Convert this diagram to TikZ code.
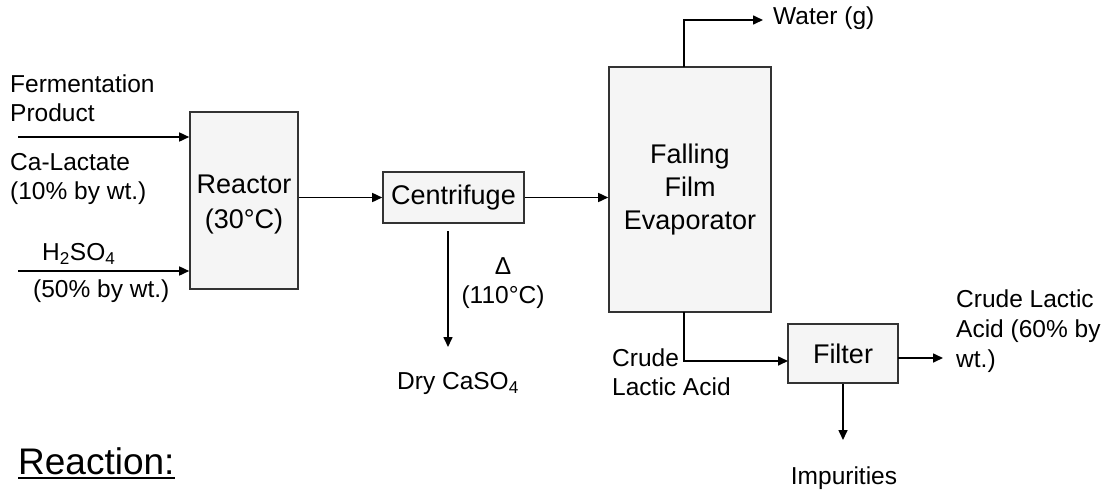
\documentclass[tikz,border=0pt]{standalone}
\usepackage{fontspec}
\setmainfont{Liberation Sans}
\usetikzlibrary{arrows.meta,calc}
\begin{document}
\begin{tikzpicture}[x=1pt,y=-1pt,
  lbl/.style={inner sep=0pt, font=\fontsize{24.5}{29}\selectfont, align=left},
  unit/.style={draw=black!80, line width=1.6pt, fill=black!4, inner sep=0pt, font=\fontsize{27}{34}\selectfont, align=center},
  flow/.style={line width=1.6pt, -{Triangle[length=10pt,width=9pt]}}]
\useasboundingbox (0,0) rectangle (1109,491);
% units
\node[unit, font=\fontsize{27}{35}\selectfont, minimum width=108pt, minimum height=177pt] (reactor) at (244,200.5) {\rule{0pt}{26pt}Reactor\\(30°C)};
\node[unit, minimum width=141pt, minimum height=51pt] (centrifuge) at (453.5,197.5) {Centrifuge};
\node[unit, font=\fontsize{27}{33}\selectfont, minimum width=162pt, minimum height=245pt] (evap) at (690,189.5) {Falling\\Film\\Evaporator};
\node[unit, minimum width=110pt, minimum height=59pt] (filter) at (843,353.5) {Filter};
% labels
\node[lbl, anchor=north west] (ferm) at (10,75) {Fermentation\\Product};
\node[lbl, anchor=north west] (calac) at (10,153) {Ca-Lactate\\(10\% by wt.)};
\node[lbl, anchor=north west] (acid) at (42,243) {H\textsubscript{2}SO\textsubscript{4}};
\node[lbl, anchor=north west] (conc) at (33,280) {(50\% by wt.)};
\node[lbl, align=center, anchor=north] (heat) at (503,257) {Δ\\(110°C)};
\node[lbl, anchor=north west] (dry) at (397,372) {Dry CaSO\textsubscript{4}};
\node[lbl, anchor=north west] (water) at (773,7) {Water (g)};
\node[lbl, anchor=north west] (crude) at (612,349) {Crude\\Lactic Acid};
\node[lbl, font=\fontsize{24.5}{30}\selectfont, anchor=north west] (product) at (956,290) {Crude Lactic\\Acid (60\% by\\wt.)};
\node[lbl, anchor=north] (imp) at (844,467) {Impurities};
\node[inner sep=0pt, anchor=north west, font=\fontsize{37}{40}\selectfont] (reaction) at (18,447) {Reaction:};
\draw[line width=2pt] ($(reaction.base west)+(0,4)$) -- ($(reaction.base east)+(0,4)$);
% connectors
\coordinate (f1) at (18,137);
\coordinate (f2) at (18,271);
\draw[flow] (f1) -- (f1 -| reactor.west);
\draw[flow] (f2) -- (f2 -| reactor.west);
\draw[flow] (reactor.east |- centrifuge.west) -- (centrifuge.west);
\draw[flow] (centrifuge.east) -- (centrifuge.east -| evap.west);
\coordinate (c1) at (448,231);
\coordinate (c2) at (448,347);
\draw[flow] (c1) -- (c2);
\coordinate (wtop) at (684,67);
\coordinate (wtip) at (763,20);
\draw[flow] (wtop) |- (wtip);
\coordinate (ebot) at (684,312);
\coordinate (fin) at (788,361);
\draw[flow] (ebot) |- (fin);
\coordinate (fout) at (898,358);
\coordinate (ptip) at (943,358);
\draw[flow] (fout) -- (ptip);
\coordinate (itip) at (843,440);
\draw[flow] (filter.south) -- (itip);
\end{tikzpicture}
\end{document}
